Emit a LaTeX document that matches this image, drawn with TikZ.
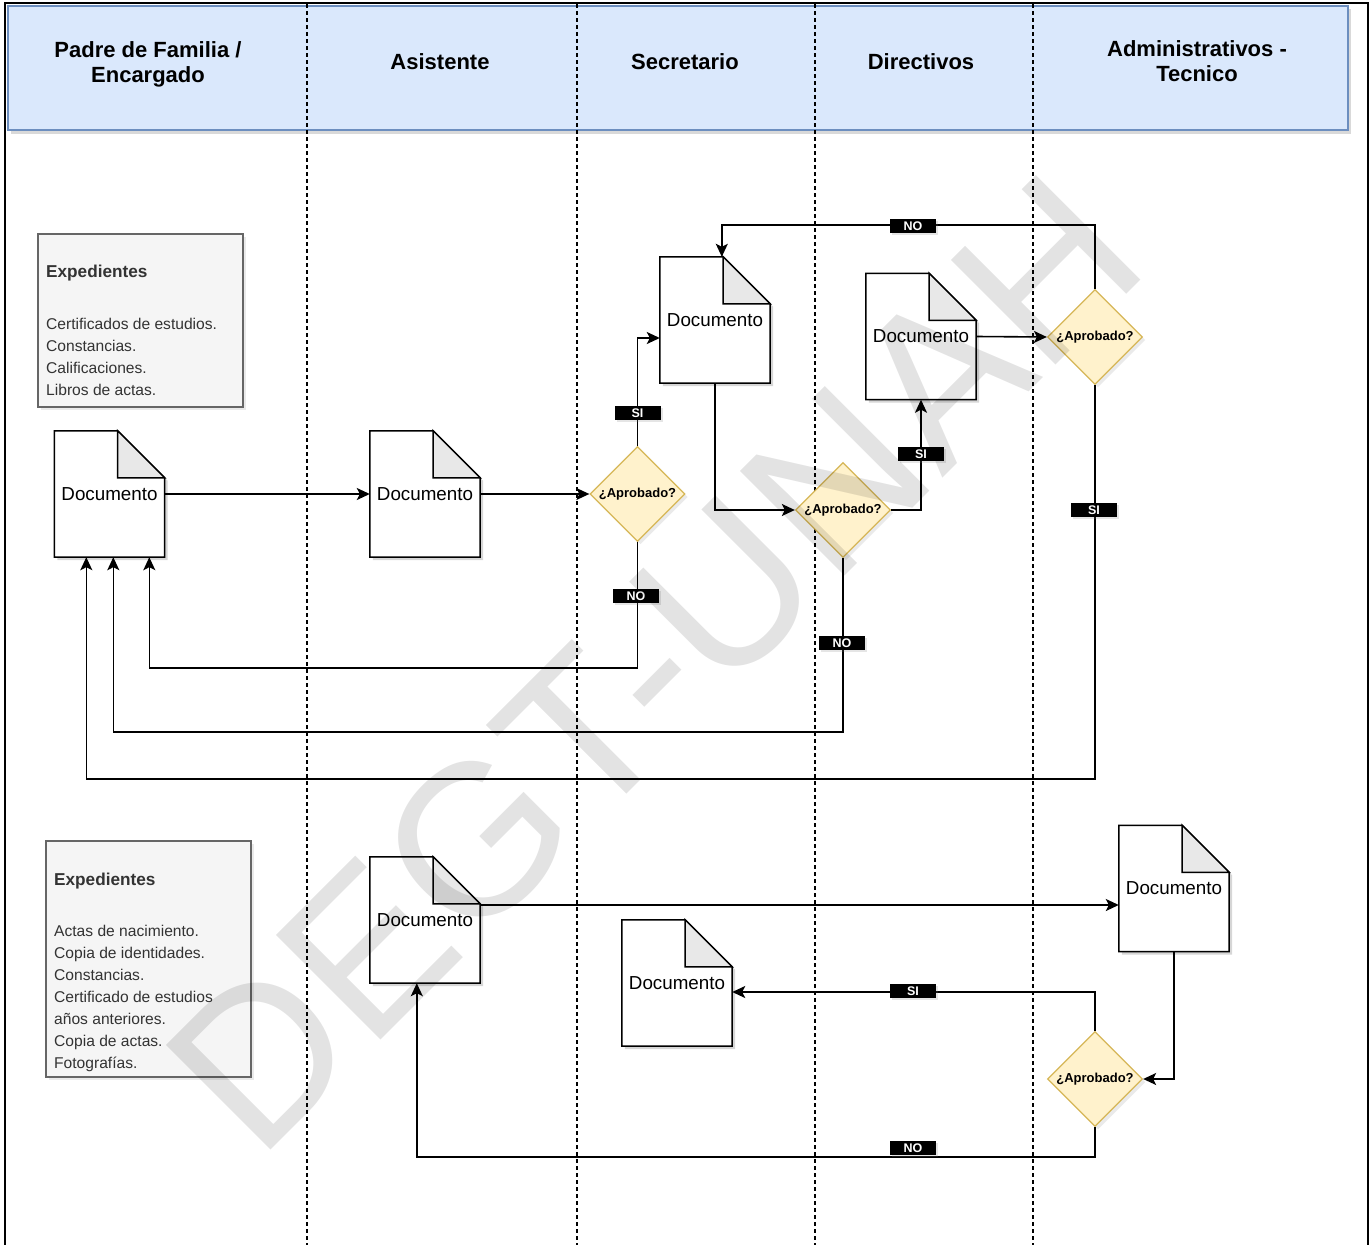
\documentclass[tikz,border=0pt]{standalone}
\usepackage{fontspec}
\setmainfont{Liberation Sans}
\usetikzlibrary{arrows.meta,shapes.geometric,shadows,calc}
\definecolor{hdrfill}{HTML}{DAE8FC}
\definecolor{hdrdraw}{HTML}{6C8EBF}
\definecolor{expfill}{HTML}{F5F5F5}
\definecolor{expdraw}{HTML}{666666}
\definecolor{exptext}{HTML}{333333}
\definecolor{foldc}{HTML}{E8E8E8}
\definecolor{diafill}{HTML}{FFF2CC}
\definecolor{diadraw}{HTML}{D6B656}
\tikzset{
  docbox/.style={rectangle, draw=none, minimum width=110pt, minimum height=126pt, inner sep=0pt},
  doctext/.style={inner sep=0pt, font=\fontsize{18.8}{20}\selectfont},
  docline/.style={draw=black, line width=1.5pt, line join=miter},
  docshadow/.style={fill=black, opacity=0.16},
  dia/.style={diamond, aspect=1, minimum width=95pt, minimum height=95pt, inner sep=0pt,
    fill=diafill, draw=diadraw, line width=1.3pt, font=\bfseries\fontsize{13}{13}\selectfont,
    drop shadow={shadow xshift=3pt, shadow yshift=-3pt, opacity=0.16}},
  lab/.style={rectangle, fill=black, text=white, font=\bfseries\fontsize{12.5}{12.5}\selectfont,
    minimum width=46pt, minimum height=14pt, inner sep=0pt,
    drop shadow={shadow xshift=2pt, shadow yshift=-2pt, opacity=0.2}},
  conn/.style={draw=black, line width=1.6pt, -{Stealth[length=13pt,width=12pt,inset=3pt]}},
  lane/.style={draw=black, line width=1.3pt, dash pattern=on 4pt off 3pt},
  hdrtext/.style={align=center, inner sep=0pt, font=\bfseries\fontsize{22}{25}\selectfont},
  expbox/.style={rectangle, fill=expfill, draw=expdraw, line width=1.3pt, inner sep=0pt,
    drop shadow={shadow xshift=3pt, shadow yshift=-3pt, opacity=0.16}},
  exptitle/.style={anchor=base west, inner sep=0pt, text=exptext, font=\bfseries\fontsize{17.2}{19}\selectfont},
  expline/.style={anchor=base west, inner sep=0pt, text=exptext, font=\fontsize{15.6}{18}\selectfont}
}
\newcommand{\docshape}[2]{%
  \node[docbox] (#1) at (#2) {};
  \fill[docshadow] ([shift={(3pt,-3pt)}]#1.south west) -- ([shift={(3pt,-3pt)}]#1.north west)
    -- ([shift={(-44pt,-3pt)}]#1.north east) -- ([shift={(3pt,-50pt)}]#1.north east)
    -- ([shift={(3pt,-3pt)}]#1.south east) -- cycle;
  \filldraw[docline, fill=white] (#1.south west) -- (#1.north west) -- ([xshift=-47pt]#1.north east)
    -- ([yshift=-47pt]#1.north east) -- (#1.south east) -- cycle;
  \filldraw[docline, fill=foldc] ([xshift=-47pt]#1.north east) -- ([shift={(-47pt,-47pt)}]#1.north east)
    -- ([yshift=-47pt]#1.north east) -- cycle;
  \node[doctext] (#1t) at (#1) {Documento};
}
\begin{document}
\begin{tikzpicture}[x=1pt,y=-1pt]
\useasboundingbox (0,0) rectangle (1371,1245);
\fill[white] (0,0) rectangle (1371,1245);
% header band
\fill[black, opacity=0.15] (11,9) rectangle (1351,134);
\filldraw[fill=hdrfill, draw=hdrdraw, line width=1.3pt] (8,6) rectangle (1348,130);
% outer frame
\draw[black, line width=1.3pt] (5,3) rectangle (1368,1252);
% lane dividers
\foreach \xx/\nm in {307/v1,577/v2,815/v3,1033/v4}{
  \coordinate (\nm-top) at (\xx,4);
  \coordinate (\nm-bot) at (\xx,1250);
  \draw[lane] (\nm-top) -- (\nm-bot);
}
% header texts
\node[hdrtext] (h1) at (148,64.5) {Padre de Familia /\\Encargado};
\node[hdrtext] (h2) at (440,62) {Asistente};
\node[hdrtext] (h3) at (685,62) {Secretario};
\node[hdrtext] (h4) at (921,62) {Directivos};
\node[hdrtext] (h5) at (1197,61.5) {Administrativos -\\Tecnico};

% Expedientes boxes
\node[expbox, minimum width=205pt, minimum height=173pt] (e1) at (140.5,320.5) {};
\node[exptitle] (e1t) at (46,277) {Expedientes};
\foreach \yy/\lbl [count=\i] in {329.5/Certificados de estudios., 351.5/Constancias., 373.5/Calificaciones., 395.5/Libros de actas.}{
  \node[expline] (e1-\i) at (46,\yy) {\lbl};
}
\node[expbox, minimum width=205pt, minimum height=236pt] (e2) at (148.5,959) {};
\node[exptitle] (e2t) at (54,885) {Expedientes};
\foreach \yy/\lbl [count=\i] in {936.5/Actas de nacimiento., 958.5/Copia de identidades., 980.5/Constancias., 1002.5/Certificado de estudios, 1024.5/años anteriores., 1046.5/Copia de actas., 1068.5/Fotografías.}{
  \node[expline] (e2-\i) at (54,\yy) {\lbl};
}

% documents
\docshape{d1}{109.5,494}
\docshape{d2}{425,494}
\docshape{d3}{715,320}
\docshape{d4}{921,336.5}
\docshape{d5}{425,920}
\docshape{d6}{677,983}
\docshape{d7}{1174,888.5}

% decisions
\node[dia] (a1) at (637.5,494) {¿Aprobado?};
\node[dia] (a2) at (843,510) {¿Aprobado?};
\node[dia] (a3) at (1095,337) {¿Aprobado?};
\node[dia] (a4) at (1095,1079) {¿Aprobado?};

% connectors
\draw[conn] (d1.east) -- (d2.west);
\draw[conn] (d2.east) -- (a1.west);
\draw[conn] (a1.north) |- ([yshift=-18pt]d3.west);
\draw[conn] (a1.south) -- ++(0,126) -| ([xshift=95pt]d1.south west);
\draw[conn] (d3.south) |- (a2.west);
\draw[conn] (a2.east) -| (d4.south);
\draw[conn] (a2.south) -- ++(0,174) -| ([xshift=59pt]d1.south west);
\draw[conn] (d4.east) -- (a3.west);
\draw[conn] (a3.north) -- ++(0,-64) -| ([xshift=62pt]d3.north west);
\draw[conn] (a3.south) -- ++(0,394) -| ([xshift=32pt]d1.south west);
\draw[conn] ([yshift=15pt]d5.east) -- ([yshift=15pt]d5.east -| d7.west);
\draw[conn] (d7.south) |- (a4.east);
\draw[conn] (a4.north) |- ([yshift=-9pt]d6.east);
\draw[conn] (a4.south) -- ++(0,30) -| ([xshift=47pt]d5.south west);

% labels
\node[lab] (l1) at (637.5,413) {SI};
\node[lab] (l2) at (636,596) {NO};
\node[lab] (l3) at (921,454) {SI};
\node[lab] (l4) at (842,643) {NO};
\node[lab] (l5) at (913,226) {NO};
\node[lab] (l6) at (1094,510) {SI};
\node[lab] (l7) at (913,991) {SI};
\node[lab] (l8) at (913,1148) {NO};

% watermark
\node[anchor=base, inner sep=0pt, rotate=45, text=black, opacity=0.11,
  font=\fontsize{215}{215}\selectfont] (wm) at (706,715) {DEGT-UNAH};
\end{tikzpicture}
\end{document}
